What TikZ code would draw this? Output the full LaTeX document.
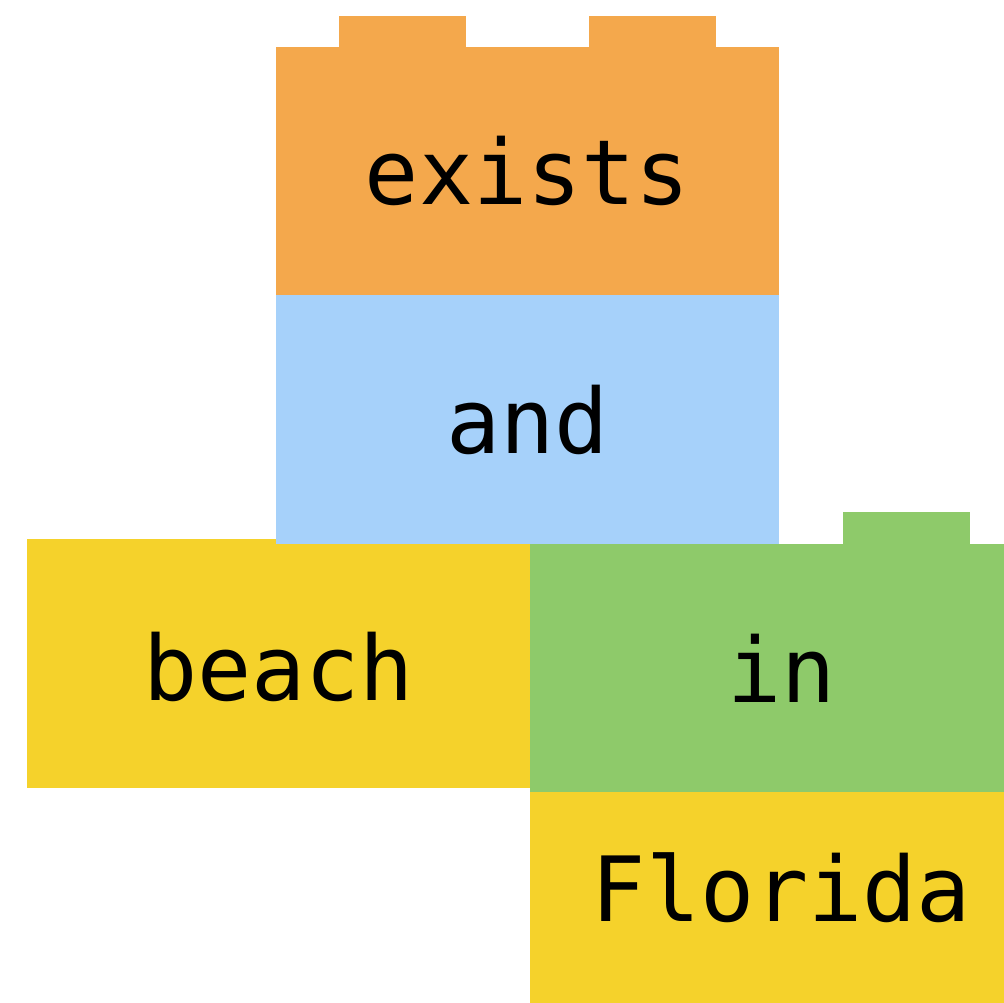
\documentclass[tikz,border=0pt]{standalone}
\usepackage{fontspec}
\newfontfamily\monofnt{DejaVu Sans Mono}
\definecolor{brickorange}{HTML}{F4A84C}
\definecolor{brickblue}{HTML}{A6D1FA}
\definecolor{brickyellow}{HTML}{F5D22B}
\definecolor{brickgreen}{HTML}{8ECA6A}
\begin{document}
\begin{tikzpicture}[x=1pt,y=-1pt,
  word/.style={anchor=base,inner sep=0pt,font=\monofnt\fontsize{90}{100}\selectfont,text=black}]
\useasboundingbox (0,0) rectangle (1004,1003);
\begin{scope}
\clip (0,0) rectangle (1004,1003);
% beach
\fill[brickyellow] (27,539) rectangle (530,788);
% exists (orange) with studs
\fill[brickorange] (276,47) rectangle (779,296);
\fill[brickorange] (339,16) rectangle (466,48);
\fill[brickorange] (589,16) rectangle (716,48);
% and (blue)
\fill[brickblue] (276,295) rectangle (779,543.5);
% in (green) with stud
\fill[brickgreen] (530,543.5) rectangle (1033,792);
\fill[brickgreen] (843,512) rectangle (970,544);
% Florida
\fill[brickyellow] (530,792) rectangle (1033,1040);
\end{scope}
\node[word] (exists) at (527.5,205) {exists};
\node[word] (and) at (527.5,453) {and};
\node[word] (beach) at (278.5,700) {beach};
\node[word] (in) at (781.5,702) {in};
\node[word] (florida) at (781.5,921) {Florida};
\end{tikzpicture}
\end{document}
